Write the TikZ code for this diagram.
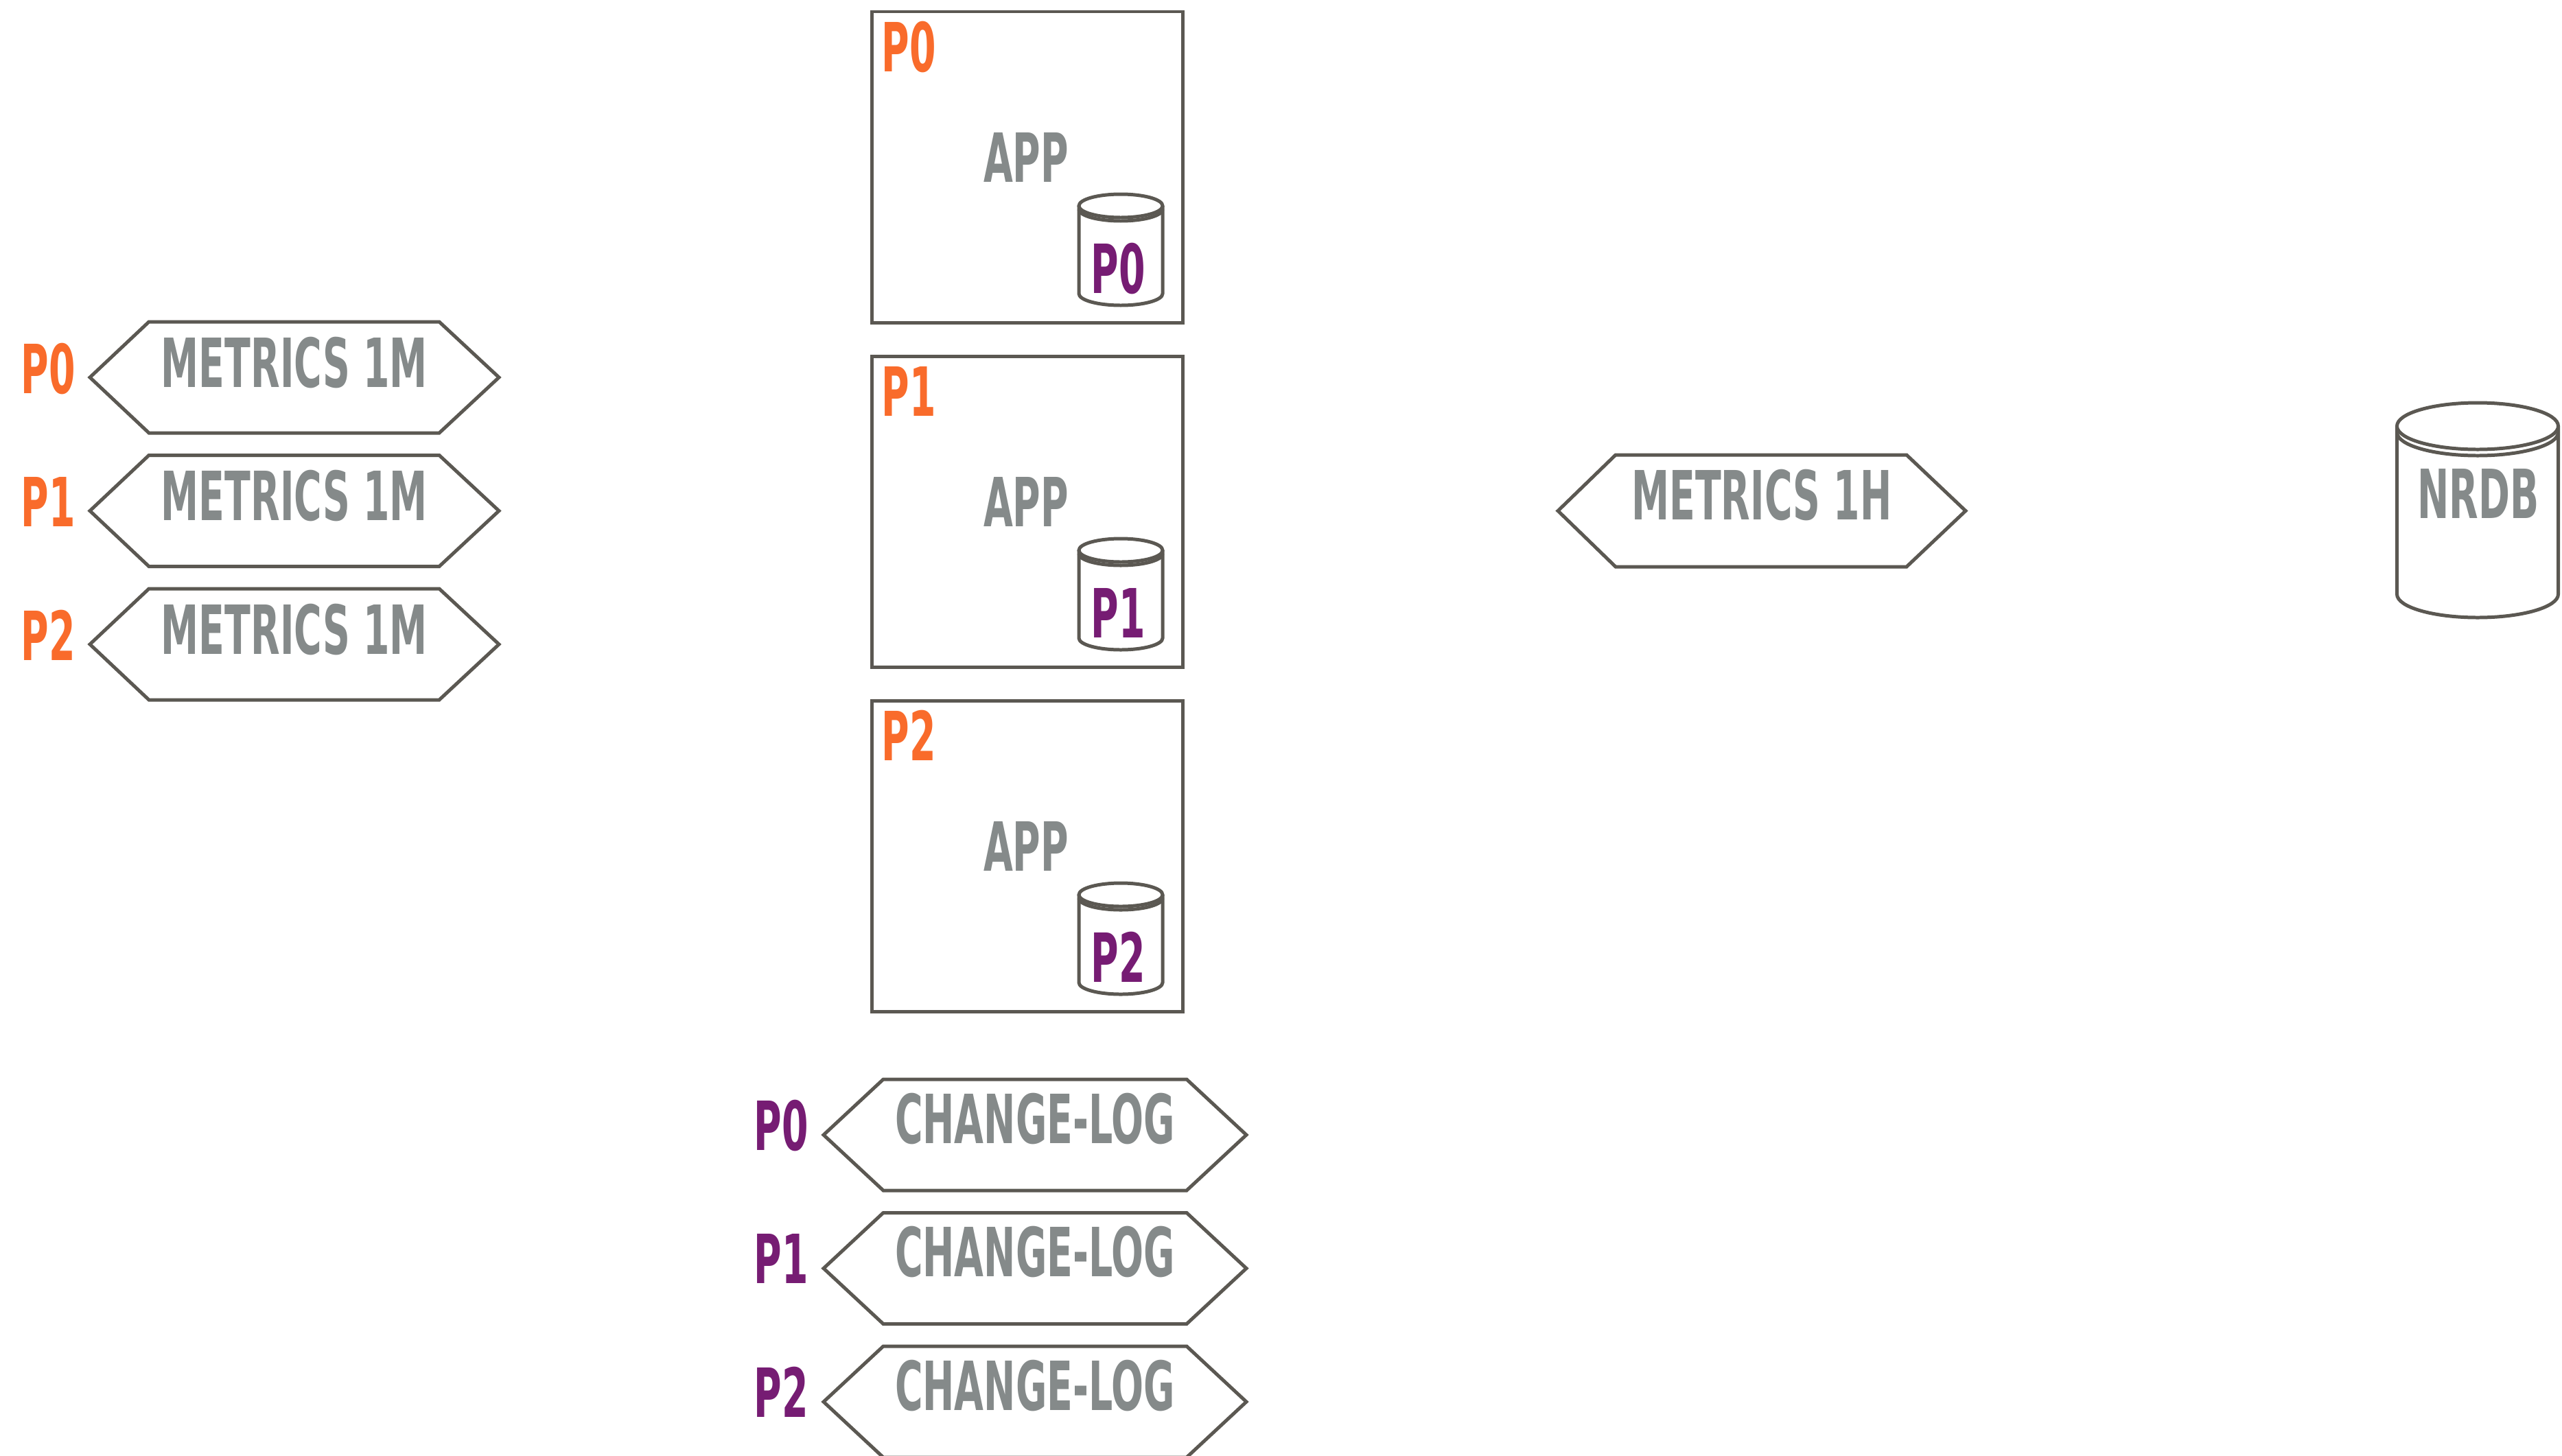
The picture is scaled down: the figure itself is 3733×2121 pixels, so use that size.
\documentclass[tikz,border=0pt]{standalone}
\usepackage{fontspec}
\newfontfamily\din[FakeStretch=0.56]{DejaVu Sans Bold}
\definecolor{edge}{HTML}{5B5852}
\definecolor{txtgray}{HTML}{858A8A}
\definecolor{orng}{HTML}{F96B2B}
\definecolor{purp}{HTML}{761C73}
\newcommand\hexsign[6]{\draw[edgeline] (#1,{(#5+#6)/2}) -- (#2,#5) -- (#3,#5) -- (#4,{(#5+#6)/2}) -- (#3,#6) -- (#2,#6) -- cycle;}
\newcommand\dbcyl[6]{%
  \draw[edgeline,fill=white] (#1-#2,#4) -- (#1-#2,#6) arc[start angle=180,end angle=0,x radius=#2,y radius=#3] -- (#1+#2,#4);
  \draw[edgeline] (#1+#2,#5) arc[start angle=0,end angle=180,x radius=#2,y radius=#3];
  \draw[edgeline,fill=white] (#1,#4) ellipse[x radius=#2,y radius=#3];}
\tikzset{
  edgeline/.style={draw=edge,line width=1.42pt,line join=miter},
  lbl/.style={font=\din\fontsize{28.1}{30}\selectfont,inner sep=0pt,text=txtgray,anchor=base},
  orlbl/.style={lbl,text=orng,anchor=base west},
  pulbl/.style={lbl,text=purp,anchor=base west},
}
\begin{document}
\begin{tikzpicture}[x=0.01cm,y=-0.01cm]
\useasboundingbox (0,0) rectangle (3733,2121);
\fill[white] (0,0) rectangle (3733,2121);
% metrics 1M
\foreach \k/\p in {0/0,1/1,2/2}{
  \pgfmathsetmacro\t{469+194.5*\k}
  \pgfmathsetmacro\b{\t+162}
  \hexsign{131}{217}{640}{727}{\t}{\b}
  \node[lbl] (m1m\k) at (429,{564+194.5*\k}) {METRICS 1M};
  \node[orlbl] (mp\k) at (30,{573+194.5*\k}) {P\p};
}
% app boxes
\foreach \k/\p in {0/0,1/1,2/2}{
  \pgfmathsetmacro\o{502*\k}
  \draw[edgeline] (1270,17+\o) rectangle (1723,470+\o);
  \node[orlbl] (bp\k) at (1284,104+\o) {P\p};
  \node[lbl] (app\k) at (1495,265+\o) {APP};
  \dbcyl{1633}{61}{17}{300+\o}{305+\o}{428+\o}
  \node[pulbl] (cp\k) at (1589,427+\o) {P\p};
}
% change log
\foreach \k/\p in {0/0,1/1,2/2}{
  \pgfmathsetmacro\t{1573+194.5*\k}
  \pgfmathsetmacro\b{\t+162}
  \hexsign{1200}{1287}{1729}{1816}{\t}{\b}
  \node[lbl] (cl\k) at (1508,{1666+194.5*\k}) {CHANGE-LOG};
  \node[pulbl] (clp\k) at (1098,{1676+194.5*\k}) {P\p};
}
% metrics 1H
\hexsign{2270}{2354}{2778}{2864}{663}{826}
\node[lbl] (m1h) at (2567,757) {METRICS 1H};
% NRDB
\dbcyl{3610}{117.5}{34}{621}{630}{866}
\node[lbl] (nrdb) at (3611,755) {NRDB};
\end{tikzpicture}
\end{document}
